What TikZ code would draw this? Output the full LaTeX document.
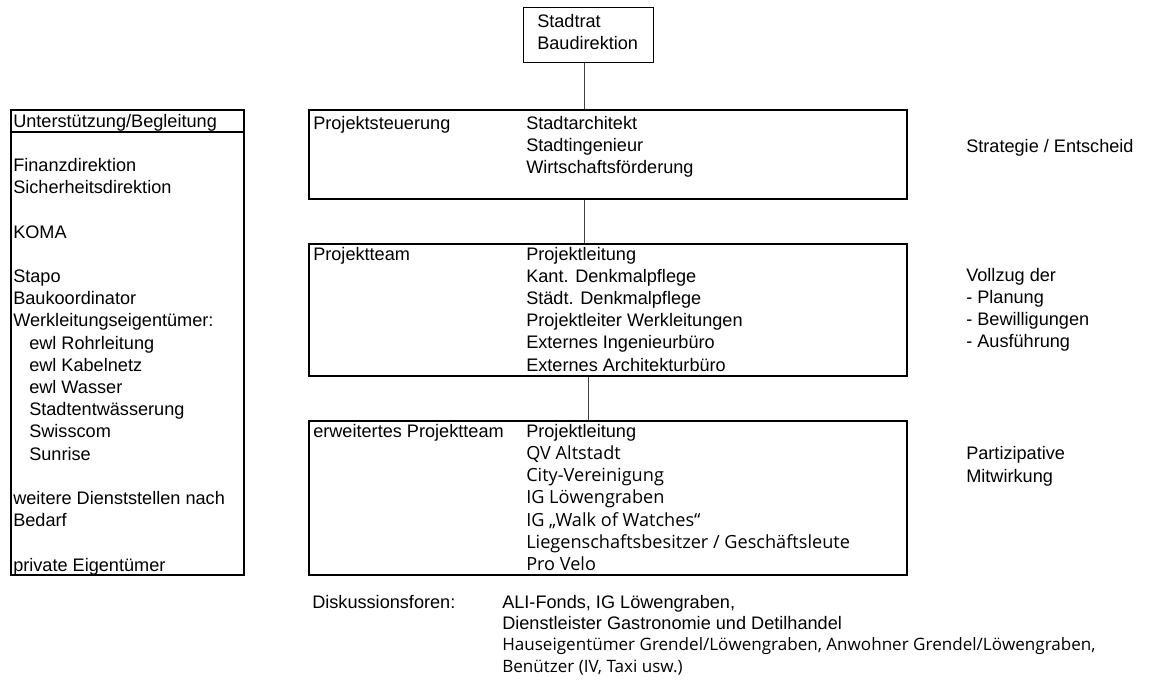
\documentclass[tikz,border=0pt]{standalone}
\usepackage{fontspec}
\setmainfont{Liberation Sans}
\newfontfamily\frut{Open Sans}
\usetikzlibrary{positioning}

\begin{document}
\begin{tikzpicture}[x=0.75pt,y=-0.75pt,
  box/.style={draw, line width=1.5pt, inner sep=0pt, anchor=north west},
  txt/.style={anchor=base west, inner sep=0pt, align=left,
    font=\fontsize{13.6}{16.65}\selectfont},
  link/.style={draw=black!75, line width=0.8pt}]
\useasboundingbox (0,0) rectangle (1153,685);

% Kaesten
\node[box, line width=0.8pt, minimum width=97.9pt, minimum height=41.25pt] (rat) at (522.5,7) {};
\node[box, minimum width=448.5pt, minimum height=66.75pt] (steuer) at (308,109) {};
\node[box, minimum width=448.5pt, minimum height=99pt] (team) at (308,243) {};
\node[box, minimum width=448.5pt, minimum height=115.5pt] (erwteam) at (308,420) {};
\node[box, minimum width=174.75pt, minimum height=348.75pt] (hilfe) at (10,109) {};
\draw[line width=1.5pt] (hilfe.west |- 0,132) -- (hilfe.east |- 0,132);

% Verbindungen
\draw[link] ([xshift=-3pt]rat.south) -- ([xshift=-3pt]rat.south |- steuer.north);
\draw[link] ([xshift=-3pt]rat.south |- steuer.south) -- ([xshift=-3pt]rat.south |- team.north);
\draw[link] (rat.south |- team.south) -- (rat.south |- erwteam.north);

% Texte (Anker = Grundlinie der letzten Zeile)
\node[txt] (rattxt) at (537,50) {Stadtrat\\Baudirektion};

\node[txt] (steuertxt) at (313,129) {Projektsteuerung};
\node[txt] (steuerliste) at (526,173.4) {Stadtarchitekt\\Stadtingenieur\\Wirtschaftsförderung};
\node[txt] (strategie) at (966,152) {Strategie / Entscheid};

\node[txt] (teamtxt) at (313,260) {Projektteam};
\node[txt] (teamliste) at (526,371) {Projektleitung\\Kant. Denkmalpflege\\Städt. Denkmalpflege\\
  Projektleiter Werkleitungen\\Externes Ingenieurbüro\\Externes Architekturbüro};
\node[txt] (vollzug) at (966,347.6) {Vollzug der\\- Planung\\- Bewilligungen\\- Ausführung};

\node[txt] (erwtxt) at (313,437.5) {erweitertes Projektteam};
\node[txt] (erwliste) at (526,570.5) {Projektleitung\\{\frut QV Altstadt}\\{\frut City-Vereinigung}\\
  {\frut IG Löwengraben}\\{\frut IG „Walk of Watches“}\\
  {\frut Liegenschaftsbesitzer / Geschäftsleute}\\{\frut Pro Velo}};
\node[txt] (partizip) at (966,482) {Partizipative\\Mitwirkung};

\node[txt] (hilfetxt) at (13,571) {Unterstützung/Begleitung\\[16.65pt]
  Finanzdirektion\\Sicherheitsdirektion\\[16.65pt]
  KOMA\\[16.65pt]
  Stapo\\Baukoordinator\\Werkleitungseigentümer:\\
  \hspace*{12pt}ewl Rohrleitung\\\hspace*{12pt}ewl Kabelnetz\\\hspace*{12pt}ewl Wasser\\
  \hspace*{12pt}Stadtentwässerung\\\hspace*{12pt}Swisscom\\\hspace*{12pt}Sunrise\\[16.65pt]
  weitere Dienststellen nach\\Bedarf\\[16.65pt]
  private Eigentümer};

\node[txt] (foren) at (312,608) {Diskussionsforen:};
\node[txt, font=\fontsize{13.6}{16}\selectfont] (forenliste) at (502,672) {ALI-Fonds, IG Löwengraben,\\
  Dienstleister Gastronomie und Detilhandel\\
  {\frut\fontsize{12.8}{16}\selectfont Hauseigentümer Grendel/Löwengraben, Anwohner Grendel/Löwengraben,}\\
  {\frut\fontsize{12.8}{16}\selectfont Benützer (IV, Taxi usw.)}};
\end{tikzpicture}
\end{document}
